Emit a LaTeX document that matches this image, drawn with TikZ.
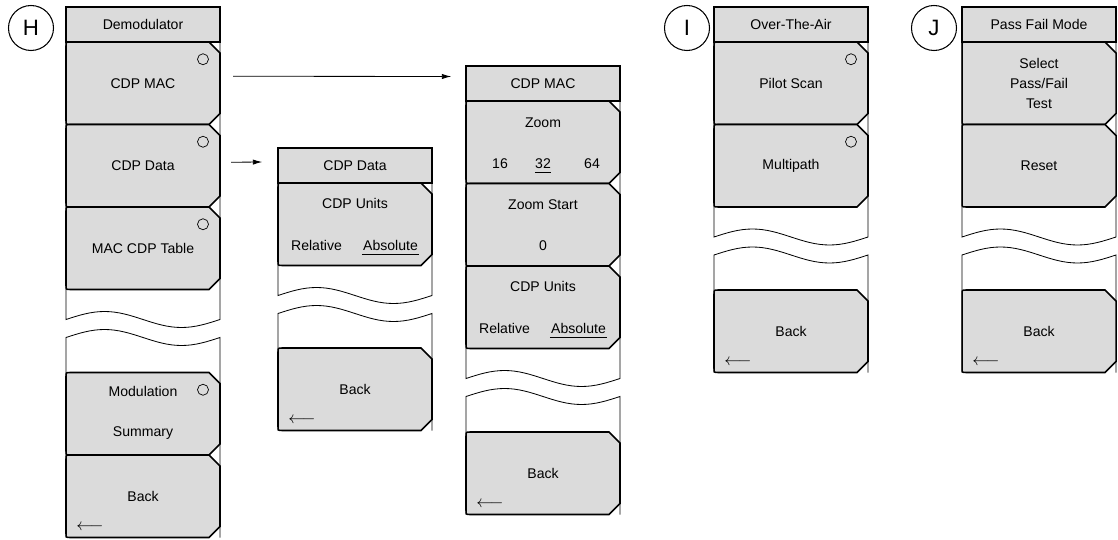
\documentclass[tikz,border=0pt]{standalone}
\usepackage{fontspec}
\setmainfont{Liberation Sans}
\usetikzlibrary{arrows.meta}
\definecolor{keygray}{RGB}{219,219,219}
\newcommand{\keyfont}{\fontsize{12}{17}\selectfont}
\newcommand{\tagfont}{\fontsize{19}{22}\selectfont}
\tikzset{
  keyline/.style={draw=black, fill=keygray, line width=1.3pt},
  frameline/.style={draw=black, line width=0.7pt},
  lbl/.style={font=\keyfont, inner sep=0pt, align=center},
  keybox/.style={lbl, rectangle, minimum width=154*0.03cm, minimum height=82.5*0.03cm},
  ttlbox/.style={lbl, rectangle, draw=black, fill=keygray, line width=1.3pt,
    minimum width=154*0.03cm, minimum height=35*0.03cm},
  ind/.style={circle, draw=black, line width=0.6pt, minimum size=11*0.03cm, inner sep=0pt},
  tag/.style={circle, draw=black, line width=0.9pt, minimum size=45*0.03cm,
    inner sep=0pt, font=\tagfont},
  backarr/.style={inner sep=0pt, font=\fontsize{14.5}{16}\selectfont},
  selline/.style={draw=black, line width=0.7pt},
  arrow/.style={-{Latex[length=8pt,width=4.5pt]}, line width=0.7pt}
}
% soft key: name, left x, top y, text
\newcommand{\softkey}[4]{%
  \draw[keyline] (#2+143,#3) -- (#2+4,#3) .. controls (#2,#3) .. (#2,#3+4)
    -- (#2,#3+78.5) .. controls (#2,#3+82.5) .. (#2+4,#3+82.5)
    -- (#2+143,#3+82.5) -- (#2+154,#3+71.5) -- (#2+154,#3+11) -- cycle;
  \node[keybox] (#1) at (#2+77,#3+41.25) {#4};
}
% menu frame with break: left x, frame top, upper wave, frame bottom
\newcommand{\menubreak}[4]{%
  \draw[frameline] (#1,#2) -- (#1,#3) sin (#1+38.5,#3-8) cos (#1+77,#3)
    sin (#1+115.5,#3+8) cos (#1+154,#3) -- (#1+154,#2);
  \draw[frameline] (#1,#4) -- (#1,#3+18) sin (#1+38.5,#3+10) cos (#1+77,#3+18)
    sin (#1+115.5,#3+26) cos (#1+154,#3+18) -- (#1+154,#4);
}

\begin{document}
\begin{tikzpicture}[x=0.03cm, y=-0.03cm]
  \useasboundingbox (0,0) rectangle (1118,540);

  % H: Demodulator
  \node[tag] (tagh) at (31,28) {H};
  \menubreak{66}{42}{319.5}{537.5}
  \node[ttlbox] (hdemod) at (143,24.5) {Demodulator};
  \softkey{hmac}{66}{42}{CDP MAC}
  \softkey{hdata}{66}{124.5}{CDP Data}
  \softkey{htable}{66}{207}{MAC CDP Table}
  \softkey{hmod}{66}{372.5}{}
  \softkey{hback}{66}{455}{Back}
  \node[ind] (hmacled) at ([shift={(60,-24)}]hmac.center) {};
  \node[ind] (hdataled) at ([shift={(60,-24)}]hdata.center) {};
  \node[ind] (htableled) at ([shift={(60,-24)}]htable.center) {};
  \node[ind] (hmodled) at ([shift={(60,-24)}]hmod.center) {};
  \node[lbl] (hmodtop) at ([shift={(0,-22)}]hmod.center) {Modulation};
  \node[lbl] (hmodbot) at ([shift={(0,19)}]hmod.center) {Summary};
  \node[backarr] (hbackarr) at ([shift={(-53,31)}]hback.center) {$\longleftarrow$};

  % CDP Data
  \menubreak{278}{183}{295.5}{430.5}
  \node[ttlbox] (dttl) at (355,165.5) {CDP Data};
  \softkey{dunits}{278}{183}{}
  \softkey{dback}{278}{348}{Back}
  \node[lbl] (dunitstop) at ([shift={(0,-21)}]dunits.center) {CDP Units};
  \node[lbl] (drel) at ([shift={(-38.5,21)}]dunits.center) {Relative};
  \node[lbl] (dabs) at ([shift={(35.5,21)}]dunits.center) {Absolute};
  \draw[selline] ([shift={(-1,4)}]dabs.south west) -- ([shift={(1,4)}]dabs.south east);
  \node[backarr] (dbackarr) at ([shift={(-53,31)}]dback.center) {$\longleftarrow$};

  % CDP MAC
  \menubreak{466}{101}{378.5}{514.5}
  \node[ttlbox] (mttl) at (543,83.5) {CDP MAC};
  \softkey{mzoom}{466}{101}{}
  \softkey{mstart}{466}{183.5}{}
  \softkey{munits}{466}{266}{}
  \softkey{mback}{466}{432}{Back}
  \node[lbl] (mzoomtop) at ([shift={(0,-20)}]mzoom.center) {Zoom};
  \node[lbl] (mz16) at ([shift={(-43,21)}]mzoom.center) {16};
  \node[lbl] (mz32) at ([shift={(0,21)}]mzoom.center) {32};
  \node[lbl] (mz64) at ([shift={(49,21)}]mzoom.center) {64};
  \draw[selline] ([shift={(0,4)}]mz32.south west) -- ([shift={(0,4)}]mz32.south east);
  \node[lbl] (mstarttop) at ([shift={(0,-20)}]mstart.center) {Zoom Start};
  \node[lbl] (mstartval) at ([shift={(0,21)}]mstart.center) {0};
  \node[lbl] (munitstop) at ([shift={(0,-21)}]munits.center) {CDP Units};
  \node[lbl] (mrel) at ([shift={(-38.5,21)}]munits.center) {Relative};
  \node[lbl] (mabs) at ([shift={(35.5,21)}]munits.center) {Absolute};
  \draw[selline] ([shift={(-1,4)}]mabs.south west) -- ([shift={(1,4)}]mabs.south east);
  \node[backarr] (mbackarr) at ([shift={(-53,31)}]mback.center) {$\longleftarrow$};

  % I: Over-The-Air
  \node[tag] (tagi) at (687,28) {I};
  \menubreak{714}{42}{237}{372.5}
  \node[ttlbox] (ottl) at (791,24.5) {Over-The-Air};
  \softkey{opilot}{714}{42}{Pilot Scan}
  \softkey{omulti}{714}{124.5}{Multipath}
  \softkey{oback}{714}{290}{Back}
  \node[ind] (opilotled) at ([shift={(60,-24)}]opilot.center) {};
  \node[ind] (omultiled) at ([shift={(60,-24)}]omulti.center) {};
  \node[backarr] (obackarr) at ([shift={(-53,31)}]oback.center) {$\longleftarrow$};

  % J: Pass Fail Mode
  \node[tag] (tagj) at (934,28) {J};
  \menubreak{962}{42}{237}{372.5}
  \node[ttlbox] (pttl) at (1039,24.5) {Pass Fail Mode};
  \softkey{pselect}{962}{42}{Select\\Pass/Fail\\Test}
  \softkey{preset}{962}{124.5}{Reset}
  \softkey{pback}{962}{290}{Back}
  \node[backarr] (pbackarr) at ([shift={(-53,31)}]pback.center) {$\longleftarrow$};

  % submenu arrows
  \draw[arrow] ([shift={(13,-7)}]hmac.east) -- ([shift={(-14,-7)}]mttl.west);
  \draw[arrow] ([shift={(11,-3.5)}]hdata.east) -- ([shift={(-15,-3.5)}]dttl.west);
\end{tikzpicture}
\end{document}
